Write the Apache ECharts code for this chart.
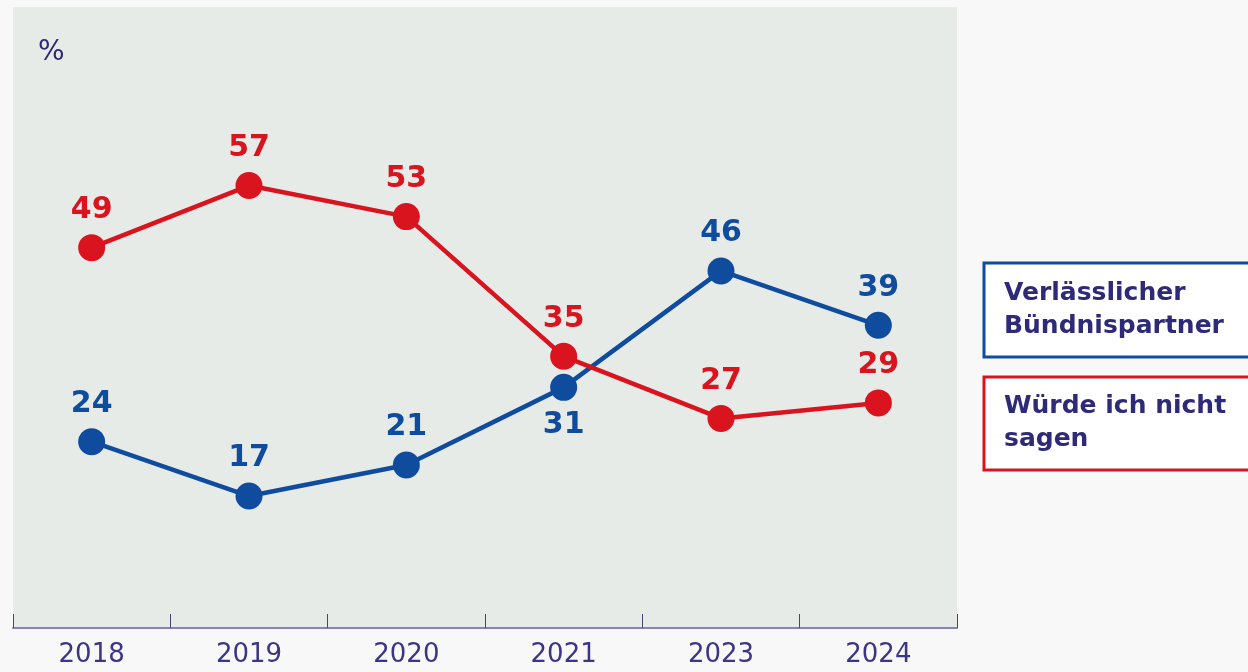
<!DOCTYPE html>
<html>
<head>
<meta charset="utf-8">
<script src="https://cdn.jsdelivr.net/npm/echarts@6/dist/echarts.min.js"></script>
<style>
html,body{margin:0;padding:0;background:#f8f8f8;}
#c{width:1248px;height:672px;}
</style>
</head>
<body>
<div id="c"></div>
<script>
const categories = ['2018','2019','2020','2021','2023','2024'];
const reliable = [24, 17, 21, 31, 46, 39];
const wouldNotSay = [49, 57, 53, 35, 27, 29];
const seriesNames = ['Verlässlicher Bündnispartner', 'Würde ich nicht sagen'];

const BLUE = '#0f4c9e';
const RED = '#d9141f';
const TEXT = '#2e2a78';
const FONT = '"DejaVu Sans", sans-serif';

const chart = echarts.init(document.getElementById('c'));
chart.setOption({
  backgroundColor: '#f8f8f8',
  animation: false,
  grid: {left: 13, right: 291, top: 7, bottom: 44, show: true, backgroundColor: '#e7ebe8', borderWidth: 0},
  xAxis: {
    type: 'category',
    data: categories,
    boundaryGap: true,
    axisLine: {lineStyle: {color: '#8a80bf', width: 2}},
    axisTick: {show: true, inside: true, length: 14, lineStyle: {color: '#4a4470', width: 1}},
    axisLabel: {color: '#3b3585', fontSize: 26, fontFamily: FONT, margin: 14}
  },
  yAxis: {
    type: 'value', min: 0, max: 80,
    axisLine: {show: false}, axisTick: {show: false}, axisLabel: {show: false}, splitLine: {show: false}
  },
  series: [
    {
      name: seriesNames[0], type: 'line',
      symbol: 'circle', symbolSize: 27,
      lineStyle: {color: BLUE, width: 4.5},
      itemStyle: {color: BLUE},
      label: {
        show: true, color: BLUE, fontSize: 30, fontWeight: 'bold', fontFamily: FONT,
        position: 'top', distance: 9
      },
      data: reliable.map((v, i) => i === 3 ? {value: v, label: {position: 'bottom', distance: 9}} : v)
    },
    {
      name: seriesNames[1], type: 'line',
      symbol: 'circle', symbolSize: 27,
      lineStyle: {color: RED, width: 4.5},
      itemStyle: {color: RED},
      label: {
        show: true, color: RED, fontSize: 30, fontWeight: 'bold', fontFamily: FONT,
        position: 'top', distance: 9
      },
      data: wouldNotSay
    }
  ],
  graphic: [
    {type: 'text', left: 38, top: 39, style: {text: '%', fill: TEXT, fontSize: 28, fontFamily: FONT}},
    {type: 'rect', shape: {x: 984, y: 263, width: 280, height: 94}, style: {fill: '#ffffff', stroke: BLUE, lineWidth: 3}},
    {type: 'text', x: 1004, y: 310, style: {text: 'Verlässlicher\nBündnispartner', fill: TEXT, fontSize: 25, fontWeight: 'bold', fontFamily: FONT, lineHeight: 33, verticalAlign: 'middle'}},
    {type: 'rect', shape: {x: 984, y: 377, width: 280, height: 93}, style: {fill: '#ffffff', stroke: RED, lineWidth: 3}},
    {type: 'text', x: 1004, y: 423, style: {text: 'Würde ich nicht\nsagen', fill: TEXT, fontSize: 25, fontWeight: 'bold', fontFamily: FONT, lineHeight: 33, verticalAlign: 'middle'}}
  ]
});
</script>
</body>
</html>
